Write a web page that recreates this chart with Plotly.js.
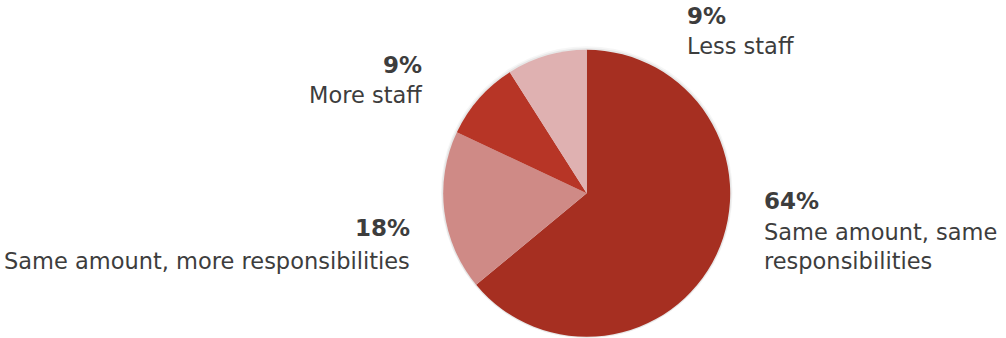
<!DOCTYPE html>
<html>
<head>
<meta charset="utf-8">
<script src="https://cdn.plot.ly/plotly-3.0.1.min.js"></script>
<style>html,body{margin:0;padding:0;background:#fff;}#chart{width:1006px;height:338px;}</style>
</head>
<body>
<div id="chart"></div>
<script>
const categories = ["Same amount, same responsibilities", "Same amount, more responsibilities", "More staff", "Less staff"];
const values = [64, 18, 9, 9];
const pctLabels = ["64%", "18%", "9%", "9%"];
const textLabels = ["Same amount, same<br>responsibilities", "Same amount, more responsibilities", "More staff", "Less staff"];
const colors = ["#A62F21", "#CF8A86", "#B73526", "#DFB1B1"];

const W = 1006, H = 338;
const cx = 586.7, cy = 193.3, R = 143.5;
const px = x => x / W;
const py = y => 1 - y / H;
const dom = r => ({x: [px(cx - r), px(cx + r)], y: [py(cy + r), py(cy - r)]});

const shadowOuter = {
  type: "pie", values: [1], sort: false, textinfo: "none", hoverinfo: "none", showlegend: false,
  marker: {colors: ["rgba(0,0,0,0.035)"], line: {width: 0}}, domain: dom(R + 3.5)
};
const shadowInner = {
  type: "pie", values: [1], sort: false, textinfo: "none", hoverinfo: "none", showlegend: false,
  marker: {colors: ["rgba(0,0,0,0.06)"], line: {width: 0}}, domain: dom(R + 1.8)
};

const trace = {
  type: "pie",
  labels: categories,
  values: values,
  sort: false,
  direction: "clockwise",
  rotation: 0,
  marker: {colors: colors, line: {width: 0}},
  textinfo: "none",
  hoverinfo: "none",
  showlegend: false,
  domain: dom(R)
};

const font = "DejaVu Sans, sans-serif";
const txtColor = "#3d3d3d";
// label placement: [pctX, pctY, textX, textY, anchor]
const place = [
  [762, 200.5, 762, 246, "left"],
  [411.5, 228.5, 411.5, 260.5, "right"],
  [424, 65, 424, 95, "right"],
  [685, 16, 685, 46, "left"]
];
const annotations = [];
for (let i = 0; i < categories.length; i++) {
  const p = place[i];
  annotations.push({
    xref: "paper", yref: "paper", x: px(p[0]), y: py(p[1]),
    xanchor: p[4], yanchor: "middle", showarrow: false,
    text: "<b>" + pctLabels[i] + "</b>", align: p[4],
    font: {family: font, size: 23, color: txtColor}
  });
  annotations.push({
    xref: "paper", yref: "paper", x: px(p[2]), y: py(p[3]),
    xanchor: p[4], yanchor: "middle", showarrow: false,
    text: textLabels[i], align: p[4],
    font: {family: font, size: 22.5, color: txtColor}
  });
}

const layout = {
  width: W, height: H,
  margin: {l: 0, r: 0, t: 0, b: 0},
  paper_bgcolor: "#ffffff",
  showlegend: false,
  annotations: annotations
};

Plotly.newPlot("chart", [shadowOuter, shadowInner, trace], layout, {displayModeBar: false, staticPlot: true});
</script>
</body>
</html>
